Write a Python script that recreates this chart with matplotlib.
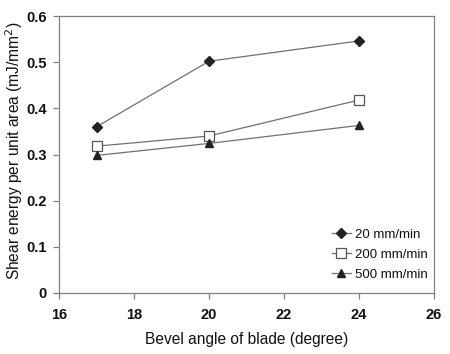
import matplotlib
matplotlib.use("Agg")
import matplotlib.pyplot as plt

plt.rcParams['font.family'] = ['Liberation Sans', 'DejaVu Sans']

angles = [17, 20, 24]
s20 = [0.360, 0.502, 0.546]
s200 = [0.318, 0.340, 0.418]
s500 = [0.298, 0.324, 0.363]
labels = ['20 mm/min', '200 mm/min', '500 mm/min']

fig = plt.figure(figsize=(4.5, 3.54), dpi=100)
ax = fig.add_axes([59/450, 1-293/354, (434-59)/450, (293-16)/354])

lc = '#707070'
ax.plot(angles, s20, color=lc, lw=0.9, marker='D', ms=5, mfc='#222222', mec='#222222', label=labels[0])
ax.plot(angles, s200, color=lc, lw=0.9, marker='s', ms=7, mfc='white', mec='#555555', mew=0.9, label=labels[1])
ax.plot(angles, s500, color=lc, lw=0.9, marker='^', ms=6, mfc='#222222', mec='#222222', label=labels[2])

ax.set_xlim(16, 26)
ax.set_ylim(0, 0.6)
ax.set_xticks([16, 18, 20, 22, 24, 26])
ax.set_yticks([0, 0.1, 0.2, 0.3, 0.4, 0.5, 0.6])
ax.set_yticklabels(['0', '0.1', '0.2', '0.3', '0.4', '0.5', '0.6'])
for sp in ax.spines.values():
    sp.set_color('#808080')
    sp.set_linewidth(0.9)
ax.tick_params(direction='out', length=4, width=0.9, color='#808080', labelsize=10.5,
               labelcolor='#111111')
ax.tick_params(axis='x', pad=7)
ax.tick_params(axis='y', pad=5)
for lab in ax.get_xticklabels() + ax.get_yticklabels():
    lab.set_fontweight('bold')
ax.set_xlabel('Bevel angle of blade (degree)', fontsize=11.2, labelpad=7, color='#111111')
ax.set_ylabel('Shear energy per unit area (mJ/mm$^2$)', fontsize=11.2, color='#111111')
ax.yaxis.set_label_coords(-0.09, 0.515)

leg = ax.legend(loc='lower right', frameon=False, fontsize=9.5, handlelength=1.5,
                handletextpad=0.3, labelspacing=0.6, borderaxespad=0.0, borderpad=0.0,
                bbox_to_anchor=((428 - 59) / 375, 12 / 277))
for t in leg.get_texts():
    t.set_color('#111111')

fig.savefig('out.png', dpi=100)
